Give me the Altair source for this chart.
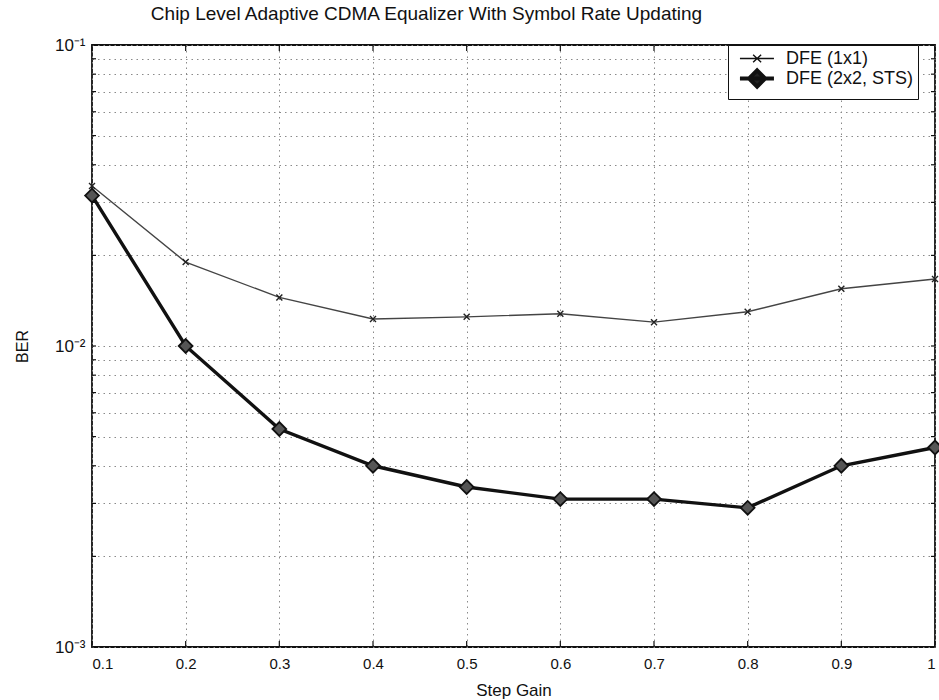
import altair as alt
import pandas as pd

# ---- data ----
step_gain = [0.1, 0.2, 0.3, 0.4, 0.5, 0.6, 0.7, 0.8, 0.9, 1.0]
ber_1x1 = [0.0340, 0.0190, 0.0145, 0.0123, 0.0125, 0.0128, 0.0120, 0.0130, 0.0155, 0.0167]
ber_2x2 = [0.0316, 0.0100, 0.0053, 0.0040, 0.0034, 0.0031, 0.0031, 0.0029, 0.0040, 0.0046]
series_names = ["DFE (1x1)", "DFE (2x2, STS)"]

x_ticks = [0.1, 0.2, 0.3, 0.4, 0.5, 0.6, 0.7, 0.8, 0.9, 1.0]
y_ticks = [0.001, 0.002, 0.003, 0.004, 0.005, 0.006, 0.007, 0.008, 0.009,
           0.01, 0.02, 0.03, 0.04, 0.05, 0.06, 0.07, 0.08, 0.09, 0.1]

rows = []
for xv, a, b in zip(step_gain, ber_1x1, ber_2x2):
    rows.append({"gain": xv, "ber": a, "series": series_names[0]})
    rows.append({"gain": xv, "ber": b, "series": series_names[1]})
df = pd.DataFrame(rows)

FONT = "Liberation Sans"
W, H = 843, 602

x_enc = alt.X("gain:Q",
              scale=alt.Scale(domain=[0.1, 1.0], nice=False, zero=False),
              axis=alt.Axis(values=x_ticks, title="Step Gain",
                            labelExpr="datum.value == 1 ? '1' : format(datum.value, '.1f')",
                            grid=True, gridDash=[1.5, 4], gridColor="#8a8a8a",
                            ticks=False, labelPadding=9, titlePadding=11,
                            labelFontSize=15, titleFontSize=17, domain=False))
y_enc = alt.Y("ber:Q",
              scale=alt.Scale(type="log", domain=[0.001, 0.1], nice=False),
              axis=alt.Axis(values=y_ticks, title="BER",
                            labelExpr="datum.value > 0.099 && datum.value < 0.101 ? '10⁻¹' : (datum.value > 0.0099 && datum.value < 0.0101 ? '10⁻²' : (datum.value > 0.00099 && datum.value < 0.00101 ? '10⁻³' : ''))",
                            grid=True, gridDash=[1.5, 4], gridColor="#8a8a8a",
                            ticks=False, labelPadding=7, titlePadding=24,
                            labelFontSize=17, titleFontSize=16, domain=False))

base = alt.Chart(df)

s1 = base.transform_filter(alt.datum.series == series_names[0])
s2 = base.transform_filter(alt.datum.series == series_names[1])

line1 = s1.mark_line(color="#444", strokeWidth=1.4).encode(x=x_enc, y=y_enc)
pts1 = s1.mark_point(shape="M-1,-1L1,1M-1,1L1,-1", size=36, color="#222",
                     strokeWidth=1.4, filled=False, opacity=1).encode(x="gain:Q", y="ber:Q")
line2 = s2.mark_line(color="#111", strokeWidth=3.4).encode(x="gain:Q", y="ber:Q")
pts2 = s2.mark_point(shape="diamond", size=190, fill="#555", stroke="#111",
                     strokeWidth=1.8, filled=True, opacity=1).encode(x="gain:Q", y="ber:Q")

# inward (MATLAB-style) tick marks along the frame
xt = alt.Chart(pd.DataFrame({"gain": x_ticks}))
xtick_bot = xt.mark_rule(color="#111", strokeWidth=1.2).encode(
    x="gain:Q", y=alt.value(H - 6), y2=alt.value(H))
xtick_top = xt.mark_rule(color="#111", strokeWidth=1.2).encode(
    x="gain:Q", y=alt.value(0), y2=alt.value(6))
yt = alt.Chart(pd.DataFrame({"ber": y_ticks}))
ytick_left = yt.mark_rule(color="#111", strokeWidth=1.2).encode(
    y="ber:Q", x=alt.value(0), x2=alt.value(4))
ytick_right = yt.mark_rule(color="#111", strokeWidth=1.2).encode(
    y="ber:Q", x=alt.value(W - 4), x2=alt.value(W))

# legend-only layer (draws no marks: filtered to empty, scales have explicit domains)
leg = alt.Legend(title=None, orient="none", legendX=636, legendY=0,
                 strokeColor="#111", fillColor="white",
                 padding=4, rowPadding=-9, symbolSize=289,
                 labelFontSize=18, labelFont=FONT, labelColor="#111",
                 labelOffset=33, labelLimit=400,
                 labelExpr="datum.label + '\u00a0\u00a0\u00a0\u00a0\u00a0\u00a0'")
legend_layer = base.transform_filter("datum.gain > 5").mark_point(
    filled=True, opacity=1
).encode(
    x="gain:Q", y="ber:Q",
    shape=alt.Shape("series:N",
                    scale=alt.Scale(domain=series_names,
                                    range=["M-0.3,0H3.7M1.25,-0.45L2.19,0.45M1.25,0.45L2.19,-0.45",
                                           "M-0.3,0H3.7M1.72,-0.95L2.67,0L1.72,0.95L0.77,0Z"]),
                    legend=leg),
    strokeWidth=alt.StrokeWidth("series:N",
                                scale=alt.Scale(domain=series_names, range=[1.4, 4]),
                                legend=leg),
    fill=alt.Fill("series:N",
                  scale=alt.Scale(domain=series_names, range=["#333", "#222"]),
                  legend=leg),
    stroke=alt.Stroke("series:N",
                      scale=alt.Scale(domain=series_names, range=["#111", "#111"]),
                      legend=leg),
)

chart = alt.layer(line1, pts1, line2, pts2, xtick_bot, xtick_top, ytick_left, ytick_right,
                  legend_layer).properties(
    width=W, height=H,
    title=alt.TitleParams("Chip Level Adaptive CDMA Equalizer With Symbol Rate Updating",
                          fontSize=19, font=FONT, fontWeight="normal", color="#111",
                          offset=12, dx=-87),
    autosize=alt.AutoSizeParams(type="none"),
    padding={"left": 92, "top": 45, "right": 4, "bottom": 53},
    background="white",
).configure_view(stroke="#111", strokeWidth=1.8).configure_axis(
    labelFont=FONT, titleFont=FONT, labelColor="#111", titleColor="#111",
    titleFontWeight="normal"
)

chart.save("out.html", embed_options={"renderer": "svg", "actions": False})
